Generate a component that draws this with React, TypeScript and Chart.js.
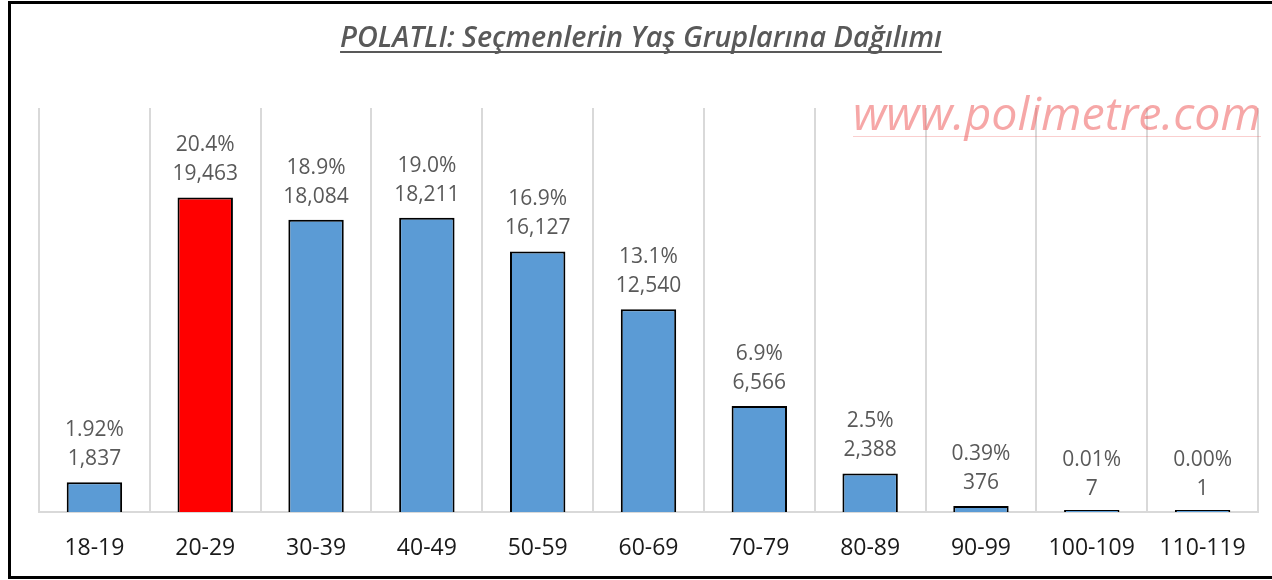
import React, { useEffect, useRef } from "react";
import { Chart, registerables } from "chart.js";

Chart.register(...registerables);

const categories = ["18-19", "20-29", "30-39", "40-49", "50-59", "60-69", "70-79", "80-89", "90-99", "100-109", "110-119"];
const voters = [1837, 19463, 18084, 18211, 16127, 12540, 6566, 2388, 376, 7, 1];
const percentLabels = ["1.92%", "20.4%", "18.9%", "19.0%", "16.9%", "13.1%", "6.9%", "2.5%", "0.39%", "0.01%", "0.00%"];
const highlightCategory = "20-29";
const titleText = "POLATLI: Seçmenlerin Yaş Gruplarına Dağılımı";
const watermarkText = "www.polimetre.com";
const yAxisMax = 25000;

const FONT = '"Open Sans", "Noto Sans", sans-serif';

const decorPlugin = {
  id: "decor",
  beforeDraw(chart: any) {
    const ctx = chart.ctx;
    ctx.save();
    ctx.fillStyle = "#ffffff";
    ctx.fillRect(0, 0, chart.width, chart.height);
    ctx.restore();
  },
  afterDatasetsDraw(chart: any) {
    const ctx = chart.ctx;
    const meta = chart.getDatasetMeta(0);
    const yScale = chart.scales.y;
    ctx.save();
    ctx.fillStyle = "#595959";
    ctx.font = `21px ${FONT}`;
    ctx.textAlign = "center";
    ctx.textBaseline = "middle";
    meta.data.forEach((el: any, i: number) => {
      const top = yScale.getPixelForValue(voters[i]);
      ctx.fillText(percentLabels[i], el.x, top - 52);
      ctx.fillText(voters[i].toLocaleString("en-US"), el.x, top - 23);
    });
    ctx.restore();
  },
  afterDraw(chart: any) {
    const ctx = chart.ctx;
    ctx.save();
    // title
    const cx = 641;
    ctx.font = `italic 600 24px ${FONT}`;
    let w = ctx.measureText(titleText).width;
    const tSize = (24 * 602) / w;
    ctx.font = `italic 600 ${tSize}px ${FONT}`;
    w = ctx.measureText(titleText).width;
    ctx.fillStyle = "#595959";
    ctx.textAlign = "left";
    ctx.textBaseline = "alphabetic";
    ctx.fillText(titleText, cx - w / 2, 47);
    ctx.strokeStyle = "#595959";
    ctx.lineWidth = 2;
    ctx.beginPath();
    ctx.moveTo(cx - w / 2, 52);
    ctx.lineTo(cx + w / 2, 52);
    ctx.stroke();

    // watermark
    ctx.font = `italic 40px ${FONT}`;
    let ww = ctx.measureText(watermarkText).width;
    const wSize = (40 * 408) / ww;
    ctx.font = `italic ${wSize}px ${FONT}`;
    ww = ctx.measureText(watermarkText).width;
    const wx = 853;
    ctx.fillStyle = "rgba(238, 95, 95, 0.55)";
    ctx.fillText(watermarkText, wx, 130);
    ctx.strokeStyle = "rgba(238, 95, 95, 0.3)";
    ctx.lineWidth = 1;
    ctx.beginPath();
    ctx.moveTo(wx, 136.5);
    ctx.lineTo(wx + ww, 136.5);
    ctx.stroke();

    // outer frame
    ctx.strokeStyle = "#000000";
    ctx.lineWidth = 3;
    ctx.beginPath();
    ctx.moveTo(1272, 2.5);
    ctx.lineTo(9.5, 2.5);
    ctx.lineTo(9.5, 577.5);
    ctx.lineTo(1272, 577.5);
    ctx.stroke();
    ctx.restore();
  },
};

export default function App() {
  const canvasRef = useRef<HTMLCanvasElement | null>(null);

  useEffect(() => {
    document.body.style.margin = "0";
    const canvas = canvasRef.current;
    if (!canvas) return;
    const chart = new Chart(canvas, {
      type: "bar",
      data: {
        labels: categories,
        datasets: [
          {
            data: voters,
            backgroundColor: (c: any) => (categories[c.dataIndex] === highlightCategory ? "#FF0000" : "#5B9BD5"),
            borderColor: "#000000",
            borderWidth: 2,
            barPercentage: 0.5,
            categoryPercentage: 1,
            minBarLength: 2,
          },
        ],
      },
      options: {
        responsive: false,
        animation: false,
        devicePixelRatio: 1,
        layout: { padding: { left: 39, right: 14, top: 108, bottom: 0 } },
        plugins: {
          legend: { display: false },
          title: { display: false },
          tooltip: { enabled: false },
        },
        scales: {
          x: {
            afterFit: (s: any) => {
              s.height = 68;
            },
            grid: {
              display: true,
              color: "#D9D9D9",
              lineWidth: 2,
              drawTicks: false,
              offset: true,
            },
            border: { display: true, color: "#D9D9D9", width: 2 },
            ticks: {
              color: "#1a1a1a",
              font: { family: FONT, size: 23 },
              padding: 23,
              maxRotation: 0,
              autoSkip: false,
            },
          },
          y: {
            display: false,
            min: 0,
            max: yAxisMax,
          },
        },
      },
      plugins: [decorPlugin],
    });
    return () => chart.destroy();
  }, []);

  return <canvas ref={canvasRef} width={1272} height={580} style={{ display: "block" }} />;
}
